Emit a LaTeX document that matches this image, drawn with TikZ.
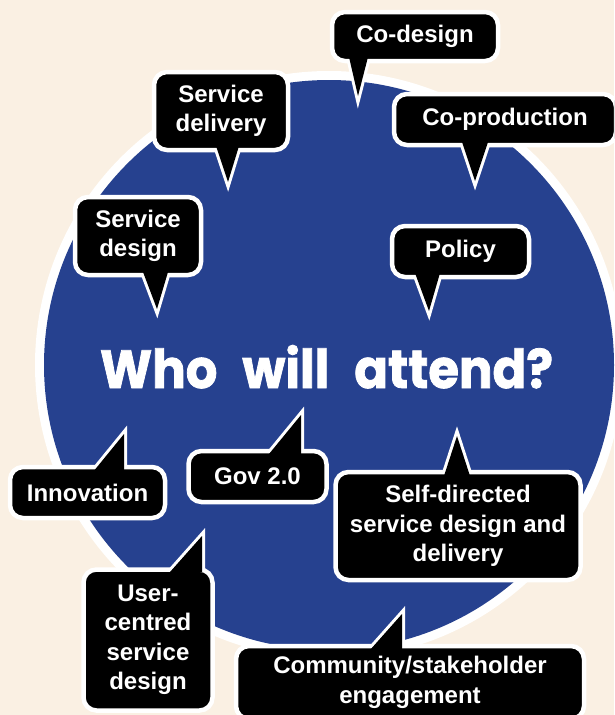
\documentclass[tikz,border=0pt]{standalone}
\usepackage{fontspec}
\setmainfont{Liberation Sans}
\newfontfamily\titlefont[BoldFeatures={FakeBold=1.5}]{Poppins}
\usepackage{graphicx}
\definecolor{cream}{RGB}{250,240,227}
\definecolor{circblue}{RGB}{38,65,143}
\begin{document}
\begin{tikzpicture}[x=1pt,y=-1pt,
  callout/.style={rectangle, rounded corners=13pt, fill=black, draw=white,
    line width=4.5pt, text=white, align=center, inner sep=0pt,
    font=\fontsize{24}{29.5}\selectfont\bfseries},
  ptrline/.style={draw=white, line width=6pt, line join=miter},
  ptrfill/.style={fill=black}]
\useasboundingbox (0,0) rectangle (614,715);
\clip (0,0) rectangle (614,715);
% background and circle
\fill[cream] (0,0) rectangle (614,715);
\fill[white] (329,365) circle (294pt);
\fill[circblue] (329,365) circle (285pt);
\node[text=white, anchor=base, inner sep=0pt] (title) at (326.5,388)
  {\resizebox{453pt}{43pt}{\titlefont\bfseries Who\hspace{0.5em}will\hspace{0.5em}attend?}};
% pointer tips and bases
\coordinate (t1) at (358,96);  \coordinate (a1) at (349,57);  \coordinate (b1) at (368,57);
\coordinate (t2) at (475,181); \coordinate (a2) at (462,142); \coordinate (b2) at (488,142);
\coordinate (t3) at (228,182); \coordinate (a3) at (216,146); \coordinate (b3) at (239,146);
\coordinate (t4) at (157,309); \coordinate (a4) at (143,272); \coordinate (b4) at (168,272);
\coordinate (t5) at (429,311); \coordinate (a5) at (415,273); \coordinate (b5) at (440,273);
\coordinate (t6) at (124,434); \coordinate (a6) at (93,472);  \coordinate (b6) at (124,472);
\coordinate (t7) at (301,415); \coordinate (a7) at (269,454); \coordinate (b7) at (301,454);
\coordinate (t8) at (457,436); \coordinate (a8) at (444,476); \coordinate (b8) at (470,476);
\coordinate (t9) at (202,536); \coordinate (a9) at (170,572); \coordinate (b9) at (202,572);
\coordinate (t10) at (402,614); \coordinate (a10) at (370,650); \coordinate (b10) at (402,650);
\foreach \i in {1,...,10} {\draw[ptrline] (t\i) -- (a\i) -- (b\i) -- cycle;}
% callout boxes
\node[callout, minimum width=166pt, minimum height=49pt] (codesign) at (415,36.5) {Co-design};
\node[callout, minimum width=222pt, minimum height=51pt] (coprod) at (505,119.5) {Co-production};
\node[callout, minimum width=134pt, minimum height=78pt] (sdeliv) at (221,111) {Service\\delivery};
\node[callout, minimum width=126pt, minimum height=78pt] (sdesign) at (138,236) {Service\\design};
\node[callout, minimum width=137pt, minimum height=51pt] (policy) at (460.5,251.5) {Policy};
\node[callout, minimum width=155pt, minimum height=51pt] (innov) at (87.5,492.5) {Innovation};
\node[callout, minimum width=138pt, minimum height=51pt] (gov) at (257.5,476.5) {Gov 2.0};
\node[callout, minimum width=245pt, minimum height=108pt] (selfdir) at (458,526) {Self-directed\\service design and\\delivery};
\node[callout, minimum width=129pt, minimum height=141pt] (user) at (148,640) {User-\\centred\\service\\design};
\node[callout, minimum width=348pt, minimum height=73pt] (community) at (410,682.5) {Community/stakeholder\\engagement};
\foreach \i in {1,...,10} {\fill[ptrfill] (t\i) -- (a\i) -- (b\i) -- cycle;}
\end{tikzpicture}
\end{document}
